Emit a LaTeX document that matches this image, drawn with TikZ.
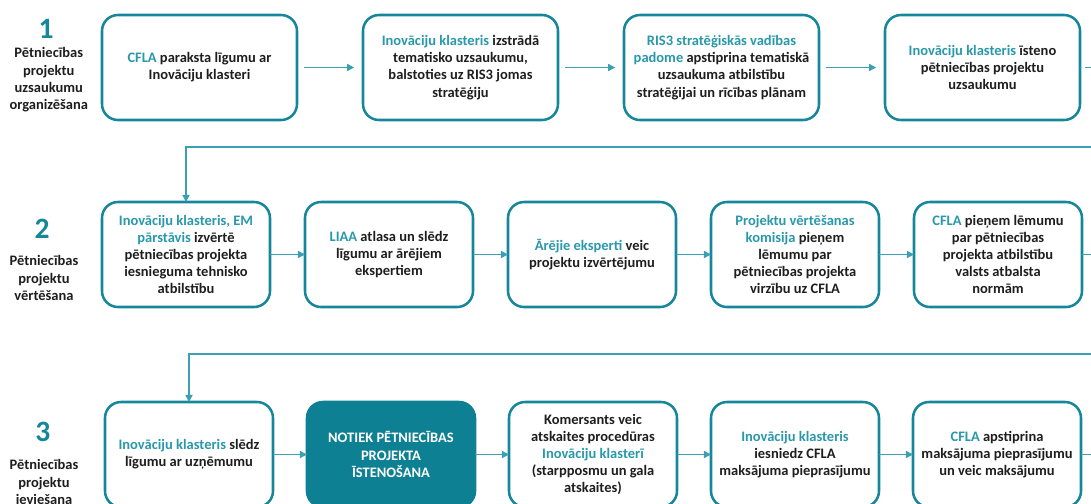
\documentclass[tikz,border=0pt]{standalone}
\usepackage{xcolor}
\usepackage{fontspec}
\setmainfont{Carlito}
\usepackage{tikz}
\usetikzlibrary{calc,positioning,arrows.meta}

\definecolor{tealline}{RGB}{22,135,155}
\definecolor{tealfill}{RGB}{14,128,148}
\definecolor{tealtext}{RGB}{40,152,170}
\definecolor{tealarrow}{RGB}{60,160,180}
\definecolor{darktext}{RGB}{30,30,30}
\newcommand{\hl}[1]{\textcolor{tealtext}{#1}}

\begin{document}
\begin{tikzpicture}[align=center,
    stepbox/.style={draw=tealline, line width=1.8pt, outer sep=0pt, rounded corners=0.4cm, minimum height=2.625cm, text=darktext, font=\fontsize{10.3}{12.2}\selectfont\bfseries},
    widebox/.style={stepbox, minimum width=4.875cm},
    narrowbox/.style={stepbox, minimum width=4.2cm},
    flow/.style={draw=tealarrow, line width=1pt, -{Triangle[length=5pt,width=5pt]}},
    phasenum/.style={text=tealline, font=\fontsize{21}{24}\selectfont\bfseries},
    phaselabel/.style={text=darktext, font=\fontsize{10.3}{12.3}\selectfont\bfseries}]

    \useasboundingbox (0,0) rectangle (27.275,-12.575);
    \clip (0,0) rectangle (27.275,-12.575);

    % phases
    \node [phasenum] (num1) at (1.15,-0.725) {1};
    \node [phaselabel] (label1) at (1.22,-2.0) {Pētniecības\\projektu\\uzsaukumu\\organizēšana};
    \node [phasenum] (num2) at (1.05,-5.725) {2};
    \node [phaselabel] (label2) at (1.1,-6.95) {Pētniecības\\projektu\\vērtēšana};
    \node [phasenum] (num3) at (1.07,-10.8) {3};
    \node [phaselabel] (label3) at (1.1,-12.05) {Pētniecības\\projektu\\ieviešana};

    % row 1
    \node [widebox] (box11) at (4.9875,-1.6875) {\hl{CFLA} paraksta līgumu ar\\Inovāciju klasteri};
    \node [widebox, right=1.65cm of box11] (box12) {\hl{Inovāciju klasteris} izstrādā\\tematisko uzsaukumu,\\balstoties uz RIS3 jomas\\stratēģiju};
    \node [widebox, right=1.65cm of box12] (box13) {\hl{RIS3 stratēģiskās vadības}\\\hl{padome} apstiprina tematiskā\\uzsaukuma atbilstību\\stratēģijai un rīcības plānam};
    \node [widebox, right=1.65cm of box13] (box14) {\hl{Inovāciju klasteris} īsteno\\pētniecības projektu\\uzsaukumu};

    % row 2
    \node [narrowbox, below right=2.05cm and 0cm of box11.south west] (box21) {\hl{Inovāciju klasteris, EM}\\\hl{pārstāvis} izvērtē\\pētniecības projekta\\iesnieguma tehnisko\\atbilstību};
    \node [narrowbox, right=0.875cm of box21] (box22) {\hl{LIAA} atlasa un slēdz\\līgumu ar ārējiem\\ekspertiem};
    \node [narrowbox, right=0.875cm of box22] (box23) {\hl{Ārējie eksperti} veic\\projektu izvērtējumu};
    \node [narrowbox, right=0.875cm of box23] (box24) {\hl{Projektu vērtēšanas}\\\hl{komisija} pieņem\\lēmumu par\\pētniecības projekta\\virzību uz CFLA};
    \node [narrowbox, right=0.875cm of box24] (box25) {\hl{CFLA} pieņem lēmumu\\par pētniecības\\projekta atbilstību\\valsts atbalsta\\normām};

    % row 3
    \node [narrowbox, below right=2.375cm and 0.075cm of box21.south west] (box31) {\hl{Inovāciju klasteris} slēdz\\līgumu ar uzņēmumu};
    \node [narrowbox, right=0.85cm of box31, fill=tealfill, draw=tealfill, text=white] (box32) {NOTIEK PĒTNIECĪBAS\\PROJEKTA\\ĪSTENOŠANA};
    \node [narrowbox, right=0.85cm of box32] (box33) {Komersants veic\\atskaites procedūras\\\hl{Inovāciju klasterī}\\(starpposmu un gala\\atskaites)};
    \node [narrowbox, right=0.85cm of box33] (box34) {\hl{Inovāciju klasteris}\\iesniedz CFLA\\maksājuma pieprasījumu};
    \node [narrowbox, right=0.85cm of box34] (box35) {\hl{CFLA} apstiprina\\maksājuma pieprasījumu\\un veic maksājumu};

    % turning points off the right edge
    \coordinate [right=0.6cm of box14.east] (exit1);
    \coordinate [above=1.375cm of box21.north] (entry2);
    \coordinate [right=0.6cm of box25.east] (exit2);
    \coordinate [above=1.2cm of box31.north] (entry3);

    \draw[flow, shorten <=0.17cm, shorten >=0.22cm] (box11) -- (box12);
    \draw[flow, shorten <=0.17cm, shorten >=0.22cm] (box12) -- (box13);
    \draw[flow, shorten <=0.17cm, shorten >=0.22cm] (box13) -- (box14);
    \draw[flow, shorten <=0.12cm] (box14.east) -- (exit1) |- (entry2) -- (box21.north);

    \draw[flow] (box21) -- (box22);
    \draw[flow] (box22) -- (box23);
    \draw[flow] (box23) -- (box24);
    \draw[flow] (box24) -- (box25);
    \draw[flow] (box25.east) -- (exit2) |- (entry3) -- (box31.north);

    \draw[flow] (box31) -- (box32);
    \draw[flow] (box32) -- (box33);
    \draw[flow] (box33) -- (box34);
    \draw[flow] (box34) -- (box35);
    \draw[draw=tealarrow, line width=1pt] (box35.east) -- ++(0.6,0);

\end{tikzpicture}
\end{document}
